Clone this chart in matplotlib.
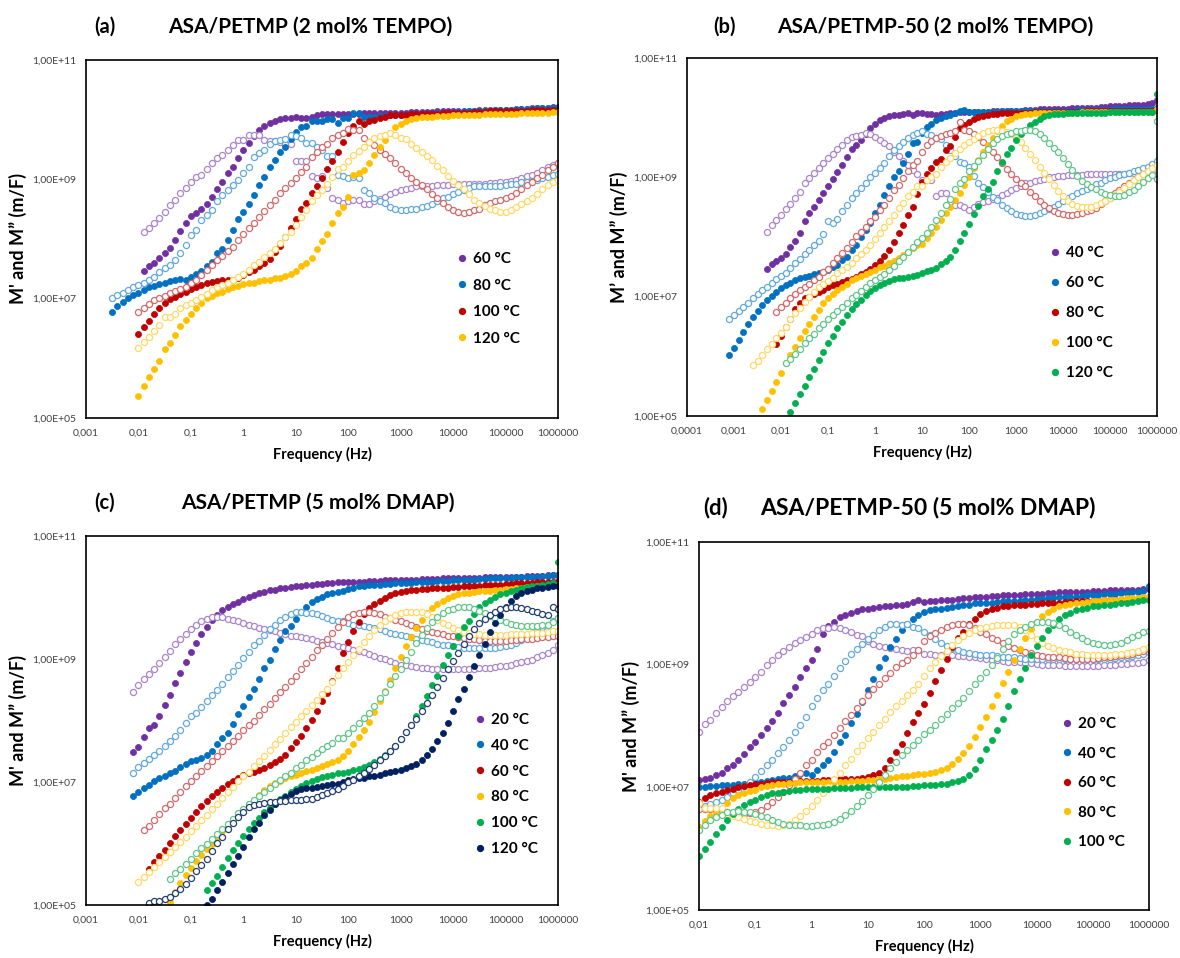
import numpy as np
import matplotlib
matplotlib.use('Agg')
import matplotlib.pyplot as plt
from matplotlib.lines import Line2D
from matplotlib.ticker import NullLocator

plt.rcParams.update({
    'font.family': ['Lato', 'DejaVu Sans'],
    'axes.linewidth': 1.2,
    'axes.edgecolor': '#000000',
})

W, H = 1180, 958
STEP = 0.1      # measured points are 0.1 decade apart
F_END = 6.0     # every sweep ends at 1 MHz

# ---------------- data: log10(M) in m/F, listed from low to high frequency ----------------
# (a) ASA/PETMP (2 mol% TEMPO)
A_TEMPS = ['60 °C', '80 °C', '100 °C', '120 °C']
A60_M1 = [7.47, 7.54, 7.59, 7.68, 7.76, 7.85, 7.99, 8.13, 8.26, 8.39, 8.44, 8.51, 8.59, 8.71, 8.83, 8.96, 9.10, 9.21,
          9.36, 9.50, 9.61, 9.73, 9.83, 9.89, 9.95, 9.98, 10.01, 10.02, 10.03, 10.04, 10.03, 10.02, 10.05, 10.08, 10.09,
          10.09, 10.09, 10.09, 10.10, 10.10, 10.10, 10.10, 10.11, 10.11, 10.11, 10.11, 10.11, 10.12, 10.12, 10.12,
          10.12, 10.13, 10.13, 10.13, 10.13, 10.13, 10.14, 10.14, 10.14, 10.14, 10.15, 10.15, 10.15, 10.15, 10.16,
          10.16, 10.16, 10.16, 10.17, 10.17, 10.17, 10.18, 10.18, 10.18, 10.19, 10.19, 10.20, 10.20, 10.21, 10.21]
A60_M2 = [8.11, 8.18, 8.26, 8.36, 8.46, 8.57, 8.66, 8.77, 8.86, 8.96, 9.04, 9.08, 9.17, 9.27, 9.35, 9.41, 9.50, 9.58,
          9.66, 9.66, 9.74, 9.74, 9.74, 9.66, 9.65, 9.64, 9.63, 9.60, 9.60, 9.31, 9.31, 9.31, 9.06, 9.02, 9.06, 8.86,
          8.68, 8.66, 8.60, 8.63, 8.65, 8.66, 8.58, 8.58, 8.63, 8.67, 8.71, 8.75, 8.78, 8.82, 8.83, 8.86, 8.88, 8.88,
          8.89, 8.89, 8.91, 8.91, 8.91, 8.92, 8.92, 8.92, 8.92, 8.93, 8.93, 8.93, 8.94, 8.94, 8.95, 8.96, 8.97, 8.99,
          9.02, 9.06, 9.08, 9.11, 9.16, 9.20, 9.24, 9.27]
A80_M1 = [6.78, 6.87, 6.94, 7.01, 7.06, 7.10, 7.15, 7.19, 7.22, 7.24, 7.26, 7.29, 7.32, 7.33, 7.32, 7.37, 7.41, 7.47,
          7.54, 7.62, 7.76, 7.84, 7.98, 8.15, 8.34, 8.46, 8.59, 8.74, 8.91, 9.04, 9.20, 9.32, 9.46, 9.55, 9.67, 9.80,
          9.88, 9.89, 9.97, 9.97, 9.98, 10.01, 10.01, 9.95, 10.02, 10.03, 10.12, 10.12, 10.04, 10.05, 10.05, 10.06,
          10.06, 10.07, 10.07, 10.08, 10.08, 10.09, 10.09, 10.10, 10.10, 10.10, 10.11, 10.11, 10.12, 10.12, 10.13,
          10.13, 10.14, 10.14, 10.14, 10.15, 10.15, 10.16, 10.16, 10.16, 10.17, 10.17, 10.18, 10.18, 10.18, 10.19,
          10.19, 10.19, 10.20, 10.20]
A80_M2 = [7.01, 7.06, 7.10, 7.15, 7.19, 7.23, 7.27, 7.31, 7.37, 7.44, 7.51, 7.56, 7.65, 7.76, 7.90, 8.07, 8.15, 8.32,
          8.40, 8.49, 8.63, 8.74, 8.82, 8.91, 8.99, 9.10, 9.21, 9.37, 9.44, 9.49, 9.59, 9.65, 9.66, 9.67, 9.74, 9.72,
          9.69, 9.61, 9.61, 9.55, 9.49, 9.39, 9.39, 9.07, 9.06, 9.02, 9.04, 9.02, 8.82, 8.77, 8.68, 8.63, 8.60, 8.54,
          8.50, 8.49, 8.49, 8.50, 8.51, 8.53, 8.55, 8.59, 8.63, 8.68, 8.71, 8.75, 8.79, 8.82, 8.85, 8.88, 8.88, 8.88,
          8.88, 8.88, 8.89, 8.91, 8.92, 8.93, 8.95, 8.96, 8.98, 8.99, 9.02, 9.04, 9.07, 9.09]
A100_M1 = [6.40, 6.53, 6.63, 6.75, 6.85, 6.93, 6.99, 7.03, 7.07, 7.12, 7.16, 7.19, 7.23, 7.26, 7.28, 7.30, 7.31, 7.31,
           7.32, 7.34, 7.40, 7.44, 7.48, 7.54, 7.59, 7.66, 7.79, 7.88, 8.03, 8.18, 8.33, 8.50, 8.61, 8.77, 8.88, 9.03,
           9.18, 9.31, 9.45, 9.62, 9.77, 9.89, 9.97, 9.93, 9.98, 9.99, 10.02, 10.05, 10.07, 10.07, 10.08, 10.08, 10.09,
           10.09, 10.09, 10.10, 10.10, 10.10, 10.11, 10.11, 10.11, 10.12, 10.12, 10.12, 10.13, 10.13, 10.13, 10.14,
           10.14, 10.14, 10.14, 10.15, 10.15, 10.15, 10.15, 10.16, 10.16, 10.16, 10.16, 10.17, 10.17]
A100_M2 = [6.78, 6.85, 6.91, 6.97, 7.01, 7.05, 7.10, 7.13, 7.17, 7.20, 7.26, 7.31, 7.40, 7.48, 7.56, 7.65, 7.72, 7.80,
           7.87, 7.98, 8.09, 8.18, 8.27, 8.37, 8.47, 8.57, 8.66, 8.77, 8.85, 8.94, 9.03, 9.13, 9.21, 9.38, 9.46, 9.55,
           9.60, 9.69, 9.74, 9.78, 9.84, 9.83, 9.83, 9.69, 9.63, 9.58, 9.49, 9.42, 9.35, 9.27, 9.18, 9.11, 9.03, 8.96,
           8.91, 8.83, 8.75, 8.68, 8.60, 8.54, 8.49, 8.45, 8.44, 8.46, 8.49, 8.51, 8.57, 8.61, 8.63, 8.66, 8.69, 8.72,
           8.77, 8.83, 8.91, 8.96, 9.02, 9.08, 9.15, 9.21, 9.27]
A120_M1 = [5.37, 5.54, 5.68, 5.82, 5.96, 6.15, 6.25, 6.39, 6.54, 6.64, 6.75, 6.85, 6.93, 7.01, 7.04, 7.09, 7.12, 7.16,
           7.19, 7.21, 7.24, 7.26, 7.27, 7.30, 7.31, 7.32, 7.34, 7.35, 7.38, 7.42, 7.47, 7.54, 7.59, 7.68, 7.83, 7.96,
           8.09, 8.26, 8.44, 8.54, 8.71, 9.07, 9.11, 9.16, 9.27, 9.40, 9.55, 9.66, 9.77, 9.87, 9.93, 9.98, 10.01,
           10.03, 10.04, 10.05, 10.05, 10.06, 10.06, 10.06, 10.07, 10.07, 10.07, 10.08, 10.08, 10.08, 10.09, 10.09,
           10.09, 10.09, 10.10, 10.10, 10.10, 10.11, 10.11, 10.11, 10.12, 10.12, 10.12, 10.13, 10.13]
A120_M2 = [6.18, 6.27, 6.36, 6.46, 6.56, 6.70, 6.70, 6.75, 6.84, 6.89, 6.92, 6.98, 7.03, 7.07, 7.15, 7.19, 7.23, 7.27,
           7.31, 7.37, 7.42, 7.48, 7.56, 7.62, 7.69, 7.77, 7.84, 7.94, 8.04, 8.12, 8.23, 8.37, 8.49, 8.63, 8.74, 8.82,
           8.93, 9.04, 9.17, 9.21, 9.30, 9.40, 9.47, 9.55, 9.63, 9.69, 9.73, 9.74, 9.77, 9.74, 9.70, 9.67, 9.60, 9.53,
           9.46, 9.39, 9.32, 9.22, 9.16, 9.06, 8.98, 8.90, 8.83, 8.75, 8.66, 8.60, 8.55, 8.51, 8.48, 8.46, 8.46, 8.48,
           8.53, 8.58, 8.64, 8.69, 8.76, 8.83, 8.90, 8.95, 8.99]

# (b) ASA/PETMP-50 (2 mol% TEMPO)
B_TEMPS = ['40 °C', '60 °C', '80 °C', '100 °C', '120 °C']
B40_M1 = [7.46, 7.54, 7.60, 7.64, 7.72, 7.84, 7.94, 8.07, 8.26, 8.40, 8.51, 8.62, 8.73, 8.86, 8.97, 9.09, 9.20, 9.34,
          9.47, 9.54, 9.63, 9.73, 9.82, 9.90, 9.96, 9.99, 10.02, 10.04, 10.05, 10.06, 10.08, 10.05, 10.07, 10.07,
          10.06, 10.06, 10.05, 10.06, 10.06, 10.07, 10.08, 10.09, 10.09, 10.09, 10.10, 10.10, 10.10, 10.10, 10.11,
          10.11, 10.11, 10.11, 10.12, 10.12, 10.12, 10.13, 10.13, 10.13, 10.14, 10.14, 10.14, 10.14, 10.15, 10.15,
          10.15, 10.16, 10.16, 10.16, 10.17, 10.17, 10.17, 10.18, 10.18, 10.19, 10.19, 10.20, 10.20, 10.21, 10.21,
          10.22, 10.22, 10.23, 10.24, 10.29]
B40_M2 = [8.09, 8.20, 8.29, 8.37, 8.47, 8.55, 8.66, 8.75, 8.90, 8.99, 9.07, 9.15, 9.24, 9.32, 9.39, 9.47, 9.54, 9.63,
          9.68, 9.70, 9.71, 9.74, 9.73, 9.67, 9.63, 9.57, 9.52, 9.43, 9.35, 9.27, 9.21, 9.12, 9.05, 8.95, 8.95, 8.96,
          8.68, 8.73, 8.73, 8.59, 8.54, 8.54, 8.51, 8.46, 8.51, 8.55, 8.59, 8.61, 8.64, 8.66, 8.71, 8.74, 8.78, 8.82,
          8.86, 8.90, 8.90, 8.94, 8.96, 8.98, 9.00, 9.01, 9.02, 9.03, 9.04, 9.04, 9.04, 9.04, 9.05, 9.05, 9.05, 9.05,
          9.06, 9.06, 9.06, 9.06, 9.06, 9.07, 9.07, 9.07, 9.07, 9.08, 9.08, 8.98]
B60_M1 = [6.03, 6.14, 6.28, 6.41, 6.54, 6.66, 6.76, 6.86, 6.94, 7.01, 7.07, 7.14, 7.19, 7.23, 7.28, 7.31, 7.33, 7.35,
          7.38, 7.39, 7.42, 7.45, 7.50, 7.53, 7.61, 7.67, 7.78, 7.87, 8.00, 8.12, 8.23, 8.41, 8.54, 8.71, 8.85, 9.01,
          9.11, 9.24, 9.39, 9.58, 9.60, 9.74, 9.85, 9.90, 9.96, 9.99, 10.02, 10.05, 10.08, 10.12, 10.13, 10.10, 10.10,
          10.10, 10.10, 10.10, 10.10, 10.10, 10.11, 10.11, 10.11, 10.11, 10.11, 10.11, 10.11, 10.11, 10.12, 10.12,
          10.12, 10.12, 10.12, 10.12, 10.12, 10.12, 10.13, 10.13, 10.13, 10.13, 10.13, 10.13, 10.13, 10.13, 10.14,
          10.14, 10.14, 10.14, 10.14, 10.14, 10.15, 10.15, 10.15, 10.16]
B60_M2 = [6.62, 6.69, 6.76, 6.83, 6.90, 6.97, 7.04, 7.11, 7.17, 7.23, 7.29, 7.35, 7.40, 7.48, 7.56, 7.63, 7.71, 7.79,
          7.87, 7.94, 8.05, 8.26, 8.23, 8.31, 8.43, 8.54, 8.65, 8.73, 8.82, 8.90, 9.00, 9.07, 9.15, 9.24, 9.35, 9.46,
          9.52, 9.60, 9.66, 9.71, 9.75, 9.78, 9.72, 9.71, 9.66, 9.64, 9.55, 9.46, 9.36, 9.26, 9.24, 9.17, 9.03, 8.91,
          8.83, 8.76, 8.67, 8.62, 8.54, 8.48, 8.44, 8.39, 8.37, 8.36, 8.36, 8.37, 8.40, 8.44, 8.47, 8.51, 8.55, 8.60,
          8.65, 8.69, 8.73, 8.77, 8.80, 8.84, 8.88, 8.91, 8.95, 8.99, 9.01, 9.04, 9.06, 9.08, 9.10, 9.12, 9.15, 9.18,
          9.23, 9.28]
B80_M1 = [6.20, 6.34, 6.49, 6.63, 6.80, 6.89, 6.97, 7.00, 7.05, 7.08, 7.12, 7.16, 7.19, 7.22, 7.25, 7.28, 7.30, 7.33,
          7.38, 7.42, 7.47, 7.53, 7.60, 7.68, 7.78, 7.92, 8.07, 8.20, 8.37, 8.51, 8.72, 8.92, 9.06, 9.15, 9.25, 9.30,
          9.46, 9.53, 9.67, 9.82, 9.87, 9.92, 9.97, 10.01, 10.03, 10.05, 10.06, 10.06, 10.07, 10.07, 10.07, 10.08,
          10.08, 10.08, 10.08, 10.09, 10.09, 10.09, 10.09, 10.09, 10.10, 10.10, 10.10, 10.10, 10.10, 10.10, 10.11,
          10.11, 10.11, 10.11, 10.11, 10.11, 10.11, 10.12, 10.12, 10.12, 10.12, 10.12, 10.12, 10.12, 10.12, 10.13]
B80_M2 = [6.75, 6.83, 6.90, 6.97, 7.04, 7.11, 7.17, 7.22, 7.28, 7.33, 7.42, 7.47, 7.56, 7.64, 7.73, 7.81, 7.91, 8.01,
          8.09, 8.17, 8.26, 8.34, 8.45, 8.54, 8.65, 8.79, 8.87, 8.99, 9.10, 9.21, 9.27, 9.43, 9.54, 9.61, 9.66, 9.69,
          9.72, 9.74, 9.78, 9.92, 9.80, 9.77, 9.72, 9.67, 9.60, 9.50, 9.42, 9.34, 9.24, 9.14, 9.06, 8.97, 8.90, 8.85,
          8.76, 8.68, 8.60, 8.54, 8.49, 8.43, 8.40, 8.38, 8.37, 8.37, 8.39, 8.40, 8.43, 8.45, 8.49, 8.55, 8.60, 8.65,
          8.73, 8.78, 8.85, 8.90, 8.95, 9.00, 9.05, 9.10, 9.15, 9.21]
B100_M1 = [5.12, 5.27, 5.42, 5.57, 5.72, 5.88, 6.02, 6.16, 6.30, 6.43, 6.54, 6.66, 6.77, 6.89, 6.97, 7.05, 7.12, 7.17,
           7.22, 7.28, 7.31, 7.35, 7.38, 7.42, 7.45, 7.49, 7.51, 7.56, 7.60, 7.64, 7.70, 7.75, 7.81, 7.87, 7.89, 7.98,
           8.07, 8.17, 8.29, 8.40, 8.51, 8.62, 8.73, 8.87, 9.01, 9.15, 9.29, 9.42, 9.54, 9.66, 9.77, 9.86, 9.94, 9.98,
           10.02, 10.04, 10.06, 10.06, 10.07, 10.07, 10.07, 10.07, 10.08, 10.08, 10.08, 10.08, 10.08, 10.08, 10.09,
           10.09, 10.09, 10.09, 10.09, 10.09, 10.09, 10.09, 10.10, 10.10, 10.10, 10.10, 10.10, 10.10, 10.10, 10.10,
           10.14]
B100_M2 = [5.85, 5.92, 6.02, 6.12, 6.21, 6.30, 6.39, 6.49, 6.62, 6.72, 6.81, 6.91, 7.00, 7.08, 7.16, 7.22, 7.27, 7.32,
           7.39, 7.45, 7.50, 7.57, 7.64, 7.71, 7.79, 7.87, 7.96, 8.06, 8.17, 8.27, 8.37, 8.48, 8.57, 8.68, 8.76, 8.85,
           8.86, 8.95, 9.01, 9.06, 9.17, 9.25, 9.33, 9.40, 9.47, 9.54, 9.60, 9.65, 9.70, 9.74, 9.77, 9.79, 9.80, 9.78,
           9.76, 9.72, 9.66, 9.59, 9.49, 9.39, 9.29, 9.18, 9.08, 8.97, 8.87, 8.77, 8.68, 8.60, 8.55, 8.52, 8.50, 8.50,
           8.50, 8.53, 8.57, 8.61, 8.65, 8.71, 8.76, 8.82, 8.88, 8.95, 9.00, 9.06, 9.11, 9.16, 9.21]
B120_M1 = [5.06, 5.22, 5.37, 5.51, 5.65, 5.79, 5.94, 6.08, 6.22, 6.34, 6.47, 6.58, 6.69, 6.79, 6.88, 6.95, 7.03, 7.10,
           7.15, 7.19, 7.23, 7.27, 7.29, 7.31, 7.32, 7.33, 7.35, 7.36, 7.40, 7.43, 7.45, 7.48, 7.54, 7.60, 7.67, 7.79,
           7.94, 8.06, 8.22, 8.38, 8.52, 8.68, 8.80, 8.93, 9.10, 9.25, 9.39, 9.49, 9.62, 9.72, 9.80, 9.88, 9.93, 9.98,
           10.02, 10.04, 10.06, 10.06, 10.06, 10.07, 10.07, 10.07, 10.07, 10.08, 10.08, 10.08, 10.08, 10.08, 10.09,
           10.09, 10.09, 10.09, 10.09, 10.09, 10.10, 10.10, 10.10, 10.10, 10.40]
B120_M2 = [5.88, 5.96, 6.04, 6.13, 6.22, 6.30, 6.38, 6.47, 6.55, 6.62, 6.69, 6.76, 6.83, 6.90, 6.97, 7.03, 7.10, 7.17,
           7.23, 7.28, 7.33, 7.38, 7.45, 7.51, 7.59, 7.67, 7.75, 7.84, 7.92, 7.99, 8.07, 8.17, 8.29, 8.40, 8.53, 8.63,
           8.80, 8.90, 8.98, 9.11, 9.19, 9.27, 9.38, 9.48, 9.58, 9.64, 9.69, 9.72, 9.75, 9.77, 9.78, 9.80, 9.80, 9.77,
           9.72, 9.66, 9.58, 9.50, 9.43, 9.33, 9.23, 9.12, 9.02, 8.94, 8.88, 8.84, 8.80, 8.76, 8.72, 8.71, 8.69, 8.69,
           8.71, 8.75, 8.79, 8.85, 8.93, 8.99, 9.04, 9.94]

# (c) ASA/PETMP (5 mol% DMAP)
C_TEMPS = ['20 °C', '40 °C', '60 °C', '80 °C', '100 °C', '120 °C']
C20_M1 = [7.49, 7.57, 7.73, 7.88, 7.92, 8.07, 8.25, 8.42, 8.61, 8.78, 8.95, 9.11, 9.26, 9.40, 9.52, 9.63, 9.72, 9.79,
          9.85, 9.89, 9.93, 9.97, 10.01, 10.04, 10.07, 10.09, 10.12, 10.13, 10.15, 10.16, 10.17, 10.18, 10.19, 10.20,
          10.21, 10.22, 10.22, 10.23, 10.24, 10.25, 10.25, 10.25, 10.26, 10.26, 10.26, 10.27, 10.27, 10.27, 10.28,
          10.28, 10.28, 10.29, 10.29, 10.29, 10.29, 10.30, 10.30, 10.30, 10.30, 10.31, 10.31, 10.31, 10.31, 10.32,
          10.32, 10.32, 10.32, 10.33, 10.33, 10.33, 10.33, 10.34, 10.34, 10.34, 10.34, 10.35, 10.35, 10.35, 10.35,
          10.36, 10.36, 10.36]
C20_M2 = [8.46, 8.58, 8.67, 8.75, 8.83, 8.93, 9.03, 9.13, 9.24, 9.32, 9.40, 9.48, 9.55, 9.61, 9.65, 9.68, 9.69, 9.68,
          9.65, 9.63, 9.61, 9.58, 9.56, 9.54, 9.51, 9.49, 9.47, 9.45, 9.43, 9.40, 9.38, 9.37, 9.35, 9.34, 9.32, 9.30,
          9.28, 9.26, 9.24, 9.21, 9.20, 9.18, 9.15, 9.13, 9.11, 9.08, 9.05, 9.02, 9.00, 8.97, 8.94, 8.91, 8.90, 8.89,
          8.87, 8.86, 8.85, 8.84, 8.84, 8.83, 8.83, 8.83, 8.83, 8.83, 8.84, 8.84, 8.85, 8.85, 8.86, 8.87, 8.88, 8.89,
          8.90, 8.93, 8.95, 8.97, 8.99, 9.03, 9.06, 9.10, 9.15, 9.23]
C40_M1 = [6.77, 6.84, 6.90, 6.95, 7.01, 7.06, 7.10, 7.14, 7.18, 7.24, 7.30, 7.34, 7.35, 7.39, 7.44, 7.51, 7.61, 7.71,
          7.80, 7.95, 8.11, 8.23, 8.38, 8.52, 8.67, 8.85, 8.99, 9.16, 9.31, 9.45, 9.54, 9.65, 9.76, 9.84, 9.92, 9.98,
          10.01, 10.05, 10.07, 10.09, 10.11, 10.14, 10.16, 10.18, 10.19, 10.20, 10.21, 10.21, 10.22, 10.22, 10.23,
          10.23, 10.24, 10.24, 10.25, 10.25, 10.26, 10.26, 10.27, 10.27, 10.27, 10.28, 10.28, 10.29, 10.29, 10.29,
          10.30, 10.30, 10.31, 10.31, 10.31, 10.32, 10.32, 10.33, 10.33, 10.33, 10.34, 10.34, 10.35, 10.35, 10.36,
          10.37]
C40_M2 = [7.15, 7.24, 7.31, 7.37, 7.44, 7.51, 7.59, 7.66, 7.74, 7.84, 7.96, 8.07, 8.13, 8.22, 8.31, 8.41, 8.50, 8.60,
          8.70, 8.81, 8.91, 9.02, 9.12, 9.22, 9.30, 9.39, 9.48, 9.56, 9.63, 9.68, 9.73, 9.76, 9.76, 9.75, 9.74, 9.73,
          9.70, 9.67, 9.64, 9.61, 9.61, 9.59, 9.56, 9.55, 9.54, 9.52, 9.50, 9.48, 9.45, 9.43, 9.41, 9.39, 9.37, 9.35,
          9.33, 9.31, 9.29, 9.27, 9.25, 9.23, 9.22, 9.21, 9.20, 9.18, 9.18, 9.18, 9.18, 9.18, 9.18, 9.18, 9.19, 9.21,
          9.23, 9.26, 9.31, 9.36, 9.41, 9.46, 9.52, 9.56, 9.61, 9.66]
C60_M1 = [5.59, 5.70, 5.80, 5.89, 6.01, 6.12, 6.22, 6.32, 6.42, 6.52, 6.61, 6.69, 6.77, 6.84, 6.90, 6.96, 7.01, 7.07,
          7.11, 7.14, 7.17, 7.20, 7.23, 7.28, 7.33, 7.38, 7.44, 7.55, 7.65, 7.75, 7.88, 8.01, 8.15, 8.31, 8.45, 8.65,
          8.85, 9.10, 9.28, 9.45, 9.60, 9.73, 9.83, 9.90, 9.95, 10.00, 10.04, 10.07, 10.09, 10.11, 10.12, 10.13,
          10.14, 10.14, 10.15, 10.15, 10.16, 10.16, 10.17, 10.17, 10.18, 10.18, 10.19, 10.19, 10.20, 10.20, 10.21,
          10.21, 10.22, 10.22, 10.23, 10.23, 10.24, 10.24, 10.25, 10.25, 10.26, 10.26, 10.27]
C60_M2 = [6.22, 6.29, 6.39, 6.48, 6.57, 6.65, 6.74, 6.83, 6.93, 7.02, 7.10, 7.18, 7.26, 7.34, 7.43, 7.51, 7.59, 7.67,
          7.75, 7.84, 7.92, 8.00, 8.09, 8.18, 8.27, 8.37, 8.46, 8.55, 8.64, 8.73, 8.83, 8.93, 9.04, 9.14, 9.23, 9.33,
          9.42, 9.52, 9.60, 9.68, 9.73, 9.75, 9.77, 9.76, 9.74, 9.73, 9.69, 9.66, 9.63, 9.61, 9.58, 9.55, 9.52, 9.49,
          9.46, 9.44, 9.42, 9.40, 9.38, 9.37, 9.36, 9.34, 9.33, 9.32, 9.31, 9.30, 9.30, 9.30, 9.30, 9.30, 9.31, 9.31,
          9.32, 9.33, 9.33, 9.34, 9.35, 9.36, 9.37, 9.38]
C80_M1 = [5.05, 5.21, 5.35, 5.48, 5.60, 5.71, 5.81, 5.91, 6.00, 6.10, 6.20, 6.29, 6.38, 6.46, 6.54, 6.63, 6.71, 6.79,
          6.87, 6.93, 6.98, 7.02, 7.06, 7.09, 7.12, 7.15, 7.18, 7.20, 7.23, 7.26, 7.29, 7.32, 7.36, 7.42, 7.50, 7.61,
          7.73, 7.85, 7.98, 8.14, 8.31, 8.48, 8.66, 8.85, 9.04, 9.21, 9.36, 9.50, 9.63, 9.74, 9.83, 9.90, 9.95, 9.99,
          10.02, 10.05, 10.07, 10.08, 10.09, 10.10, 10.11, 10.11, 10.12, 10.13, 10.14, 10.14, 10.15, 10.16, 10.17,
          10.17, 10.18, 10.18, 10.19, 10.20, 10.21]
C80_M2 = [5.37, 5.46, 5.53, 5.62, 5.70, 5.78, 5.86, 5.94, 6.02, 6.11, 6.20, 6.29, 6.38, 6.47, 6.56, 6.65, 6.74, 6.83,
          6.92, 7.01, 7.09, 7.17, 7.26, 7.34, 7.43, 7.52, 7.61, 7.70, 7.79, 7.89, 7.98, 8.07, 8.16, 8.25, 8.34, 8.43,
          8.52, 8.62, 8.74, 8.85, 8.95, 9.06, 9.17, 9.28, 9.38, 9.47, 9.55, 9.62, 9.67, 9.71, 9.74, 9.76, 9.77, 9.77,
          9.76, 9.73, 9.69, 9.64, 9.59, 9.55, 9.51, 9.47, 9.44, 9.42, 9.41, 9.40, 9.39, 9.39, 9.39, 9.39, 9.39, 9.40,
          9.40, 9.41, 9.41, 9.42, 9.42, 9.43, 9.44, 9.45, 9.46]
C100_M1 = [5.25, 5.36, 5.47, 5.62, 5.76, 5.89, 6.01, 6.12, 6.24, 6.33, 6.42, 6.51, 6.58, 6.65, 6.72, 6.77, 6.83, 6.89,
           6.94, 6.98, 7.02, 7.05, 7.08, 7.10, 7.12, 7.14, 7.15, 7.17, 7.19, 7.21, 7.24, 7.28, 7.32, 7.38, 7.44, 7.51,
           7.59, 7.70, 7.81, 7.93, 8.07, 8.23, 8.40, 8.57, 8.72, 8.91, 9.07, 9.21, 9.37, 9.52, 9.62, 9.73, 9.84, 9.91,
           9.96, 10.01, 10.05, 10.08, 10.11, 10.13, 10.15, 10.17, 10.18, 10.19, 10.20, 10.22, 10.23, 10.58]
C100_M2 = [5.43, 5.52, 5.59, 5.66, 5.75, 5.84, 5.92, 6.00, 6.08, 6.16, 6.24, 6.32, 6.40, 6.49, 6.56, 6.64, 6.71, 6.78,
           6.84, 6.90, 6.97, 7.03, 7.09, 7.15, 7.22, 7.28, 7.35, 7.41, 7.47, 7.53, 7.58, 7.64, 7.71, 7.72, 7.80, 7.88,
           7.96, 8.04, 8.13, 8.24, 8.36, 8.47, 8.59, 8.72, 8.83, 8.98, 9.12, 9.26, 9.39, 9.51, 9.60, 9.68, 9.75, 9.79,
           9.82, 9.84, 9.85, 9.84, 9.82, 9.78, 9.75, 9.70, 9.66, 9.63, 9.60, 9.57, 9.55, 9.54, 9.54, 9.54, 9.54, 9.55,
           9.56, 9.60, 9.66]
C120_M1 = [5.00, 5.09, 5.24, 5.38, 5.52, 5.66, 5.80, 5.95, 6.10, 6.23, 6.34, 6.46, 6.55, 6.64, 6.71, 6.76, 6.81, 6.85,
           6.88, 6.90, 6.91, 6.92, 6.93, 6.95, 6.96, 6.97, 7.00, 7.03, 7.05, 7.06, 7.07, 7.09, 7.10, 7.12, 7.14, 7.17,
           7.18, 7.20, 7.23, 7.26, 7.30, 7.36, 7.44, 7.54, 7.67, 7.80, 7.96, 8.15, 8.35, 8.52, 8.70, 8.89, 9.06, 9.25,
           9.44, 9.58, 9.72, 9.85, 9.95, 10.02, 10.08, 10.11, 10.13, 10.15, 10.16, 10.17, 10.18, 10.18]
C120_M2 = [5.03, 5.06, 5.07, 5.09, 5.13, 5.19, 5.26, 5.34, 5.44, 5.55, 5.65, 5.75, 5.87, 6.01, 6.11, 6.24, 6.34, 6.43,
           6.51, 6.59, 6.63, 6.65, 6.66, 6.68, 6.68, 6.69, 6.69, 6.70, 6.70, 6.71, 6.72, 6.73, 6.76, 6.79, 6.82, 6.85,
           6.89, 6.94, 7.00, 7.04, 7.09, 7.15, 7.21, 7.28, 7.35, 7.43, 7.51, 7.59, 7.70, 7.81, 7.92, 8.03, 8.15, 8.28,
           8.41, 8.55, 8.69, 8.83, 8.96, 9.09, 9.24, 9.37, 9.48, 9.58, 9.65, 9.72, 9.77, 9.81, 9.83, 9.85, 9.85, 9.83,
           9.81, 9.78, 9.76, 9.73, 9.71, 9.85, 9.82]

# (d) ASA/PETMP-50 (5 mol% DMAP)
D_TEMPS = ['20 °C', '40 °C', '60 °C', '80 °C', '100 °C']
D20_M1 = [7.12, 7.14, 7.16, 7.20, 7.24, 7.31, 7.36, 7.45, 7.55, 7.65, 7.74, 7.85, 7.96, 8.08, 8.21, 8.37, 8.50, 8.63,
          8.80, 8.94, 9.08, 9.25, 9.50, 9.63, 9.70, 9.77, 9.81, 9.84, 9.87, 9.90, 9.91, 9.93, 9.94, 9.95, 9.96, 9.97,
          9.97, 9.99, 10.02, 10.05, 10.02, 10.03, 10.04, 10.05, 10.05, 10.06, 10.07, 10.08, 10.09, 10.10, 10.11, 10.11,
          10.12, 10.12, 10.13, 10.13, 10.14, 10.14, 10.15, 10.15, 10.16, 10.16, 10.17, 10.17, 10.18, 10.18, 10.18,
          10.19, 10.19, 10.19, 10.20, 10.20, 10.20, 10.21, 10.21, 10.21, 10.22, 10.22, 10.22, 10.23, 10.23]
D20_M2 = [7.90, 8.03, 8.09, 8.21, 8.31, 8.41, 8.49, 8.56, 8.64, 8.72, 8.80, 8.88, 8.99, 9.07, 9.15, 9.22, 9.29, 9.35,
          9.41, 9.45, 9.50, 9.56, 9.60, 9.60, 9.61, 9.60, 9.56, 9.53, 9.48, 9.46, 9.39, 9.34, 9.30, 9.29, 9.27, 9.26,
          9.24, 9.22, 9.24, 9.24, 9.18, 9.17, 9.16, 9.15, 9.15, 9.15, 9.14, 9.14, 9.13, 9.12, 9.11, 9.10, 9.08, 9.07,
          9.06, 9.05, 9.04, 9.04, 9.03, 9.02, 9.01, 9.00, 9.00, 8.99, 8.99, 8.98, 8.98, 8.98, 8.98, 8.98, 8.98, 8.98,
          8.99, 9.00, 9.00, 9.01, 9.01, 9.02, 9.03, 9.04, 9.07]
D40_M1 = [7.01, 7.01, 7.02, 7.02, 7.03, 7.03, 7.04, 7.05, 7.06, 7.07, 7.08, 7.09, 7.11, 7.12, 7.13, 7.15, 7.16, 7.18,
          7.21, 7.24, 7.20, 7.29, 7.36, 7.44, 7.58, 7.74, 7.85, 8.05, 8.20, 8.39, 8.59, 8.77, 8.96, 9.11, 9.28, 9.42,
          9.56, 9.66, 9.75, 9.81, 9.86, 9.89, 9.90, 9.91, 9.93, 9.94, 9.96, 9.97, 9.98, 10.00, 10.00, 10.01, 10.01,
          10.02, 10.03, 10.03, 10.04, 10.04, 10.05, 10.06, 10.07, 10.07, 10.08, 10.09, 10.10, 10.10, 10.11, 10.11,
          10.12, 10.13, 10.14, 10.14, 10.15, 10.16, 10.16, 10.17, 10.17, 10.18, 10.19, 10.20, 10.28]
D40_M2 = [6.68, 6.69, 6.73, 6.76, 6.80, 6.84, 6.90, 6.96, 7.02, 7.09, 7.17, 7.27, 7.36, 7.45, 7.56, 7.66, 7.77, 7.90,
          8.01, 8.14, 8.32, 8.45, 8.58, 8.69, 8.82, 8.95, 9.06, 9.17, 9.26, 9.34, 9.42, 9.48, 9.56, 9.61, 9.67, 9.66,
          9.64, 9.66, 9.61, 9.60, 9.54, 9.48, 9.42, 9.36, 9.31, 9.27, 9.24, 9.21, 9.19, 9.17, 9.16, 9.15, 9.15, 9.14,
          9.13, 9.12, 9.12, 9.11, 9.10, 9.10, 9.10, 9.10, 9.10, 9.10, 9.10, 9.10, 9.10, 9.10, 9.10, 9.10, 9.10, 9.10,
          9.10, 9.10, 9.11, 9.12, 9.13, 9.14, 9.15, 9.17, 9.21]
D60_M1 = [6.76, 6.82, 6.87, 6.90, 6.93, 6.95, 6.98, 7.00, 7.02, 7.03, 7.05, 7.06, 7.07, 7.08, 7.08, 7.09, 7.09, 7.10,
          7.11, 7.11, 7.11, 7.11, 7.12, 7.12, 7.12, 7.13, 7.13, 7.14, 7.14, 7.16, 7.17, 7.20, 7.24, 7.32, 7.44, 7.58,
          7.71, 7.88, 8.06, 8.21, 8.36, 8.54, 8.74, 8.91, 9.10, 9.29, 9.44, 9.54, 9.66, 9.75, 9.82, 9.87, 9.90, 9.93,
          9.95, 9.96, 9.97, 9.98, 9.98, 9.99, 9.99, 10.00, 10.00, 10.01, 10.01, 10.02, 10.02, 10.03, 10.03, 10.03,
          10.04, 10.04, 10.05, 10.05, 10.05, 10.06, 10.06, 10.07, 10.07, 10.08, 10.10]
D60_M2 = [6.65, 6.65, 6.65, 6.63, 6.62, 6.60, 6.58, 6.57, 6.57, 6.58, 6.60, 6.63, 6.69, 6.76, 6.84, 6.93, 7.03, 7.13,
          7.24, 7.36, 7.44, 7.58, 7.67, 7.74, 7.85, 7.97, 8.08, 8.18, 8.30, 8.41, 8.51, 8.61, 8.69, 8.79, 8.87, 8.96,
          9.02, 9.08, 9.16, 9.24, 9.38, 9.46, 9.52, 9.57, 9.61, 9.65, 9.67, 9.67, 9.64, 9.59, 9.54, 9.50, 9.44, 9.40,
          9.35, 9.31, 9.27, 9.24, 9.21, 9.19, 9.16, 9.14, 9.13, 9.12, 9.12, 9.11, 9.10, 9.10, 9.10, 9.10, 9.10, 9.11,
          9.12, 9.13, 9.14, 9.15, 9.16, 9.18, 9.20, 9.22, 9.26]
D80_M1 = [6.35, 6.45, 6.53, 6.58, 6.65, 6.75, 6.82, 6.87, 6.91, 6.94, 6.96, 7.00, 7.02, 7.03, 7.05, 7.06, 7.07, 7.07,
          7.08, 7.08, 7.08, 7.08, 7.08, 7.09, 7.09, 7.09, 7.09, 7.10, 7.11, 7.11, 7.12, 7.12, 7.13, 7.14, 7.16, 7.17,
          7.18, 7.19, 7.20, 7.21, 7.22, 7.23, 7.25, 7.28, 7.32, 7.38, 7.46, 7.56, 7.68, 7.82, 7.98, 8.15, 8.33, 8.51,
          8.70, 8.88, 9.07, 9.25, 9.43, 9.58, 9.70, 9.79, 9.86, 9.91, 9.95, 9.97, 9.99, 10.00, 10.01, 10.02, 10.03,
          10.04, 10.05, 10.05, 10.06, 10.07, 10.08, 10.08, 10.09, 10.10, 10.11]
D80_M2 = [6.74, 6.67, 6.67, 6.67, 6.66, 6.57, 6.53, 6.51, 6.48, 6.45, 6.43, 6.41, 6.39, 6.38, 6.37, 6.38, 6.41, 6.46,
          6.53, 6.62, 6.69, 6.79, 6.90, 7.01, 7.13, 7.24, 7.36, 7.47, 7.59, 7.69, 7.80, 7.90, 8.01, 8.12, 8.23, 8.32,
          8.41, 8.50, 8.58, 8.68, 8.82, 8.94, 9.04, 9.14, 9.23, 9.32, 9.40, 9.47, 9.52, 9.56, 9.59, 9.61, 9.63, 9.64,
          9.65, 9.65, 9.64, 9.61, 9.56, 9.49, 9.42, 9.36, 9.31, 9.27, 9.24, 9.22, 9.20, 9.18, 9.17, 9.16, 9.16, 9.16,
          9.16, 9.16, 9.17, 9.18, 9.19, 9.20, 9.22, 9.25, 9.29]
D100_M1 = [5.88, 6.00, 6.11, 6.24, 6.36, 6.46, 6.57, 6.65, 6.71, 6.76, 6.80, 6.84, 6.87, 6.90, 6.91, 6.93, 6.94, 6.95,
           6.96, 6.97, 6.97, 6.98, 6.98, 6.98, 6.99, 6.99, 6.99, 6.99, 7.00, 7.00, 7.01, 7.01, 7.01, 7.01, 7.01, 7.01,
           7.01, 7.01, 7.02, 7.02, 7.03, 7.03, 7.04, 7.05, 7.06, 7.08, 7.10, 7.14, 7.20, 7.30, 7.45, 7.62, 7.77, 7.93,
           8.12, 8.32, 8.57, 8.77, 8.95, 9.16, 9.30, 9.44, 9.56, 9.65, 9.75, 9.81, 9.85, 9.89, 9.91, 9.93, 9.95, 9.96,
           9.97, 9.98, 9.99, 10.00, 10.01, 10.02, 10.04, 10.05, 10.06]
D100_M2 = [6.30, 6.38, 6.46, 6.51, 6.55, 6.59, 6.60, 6.61, 6.60, 6.59, 6.56, 6.53, 6.51, 6.46, 6.44, 6.41, 6.39, 6.38,
           6.38, 6.37, 6.37, 6.38, 6.39, 6.41, 6.44, 6.49, 6.55, 6.62, 6.69, 6.78, 6.87, 6.98, 7.09, 7.20, 7.31, 7.42,
           7.52, 7.61, 7.69, 7.77, 7.87, 7.94, 8.02, 8.11, 8.20, 8.29, 8.38, 8.46, 8.57, 8.68, 8.78, 8.88, 9.00, 9.11,
           9.25, 9.38, 9.50, 9.56, 9.62, 9.66, 9.69, 9.70, 9.69, 9.68, 9.64, 9.59, 9.53, 9.49, 9.44, 9.39, 9.36, 9.34,
           9.32, 9.32, 9.33, 9.36, 9.41, 9.45, 9.48, 9.53, 9.55]

Y_TICKS = [1e5, 1e7, 1e9, 1e11]
Y_TICKLABELS = ['1,00E+05', '1,00E+07', '1,00E+09', '1,00E+11']
X_TICKLABELS = {-4: '0,0001', -3: '0,001', -2: '0,01', -1: '0,1', 0: '1', 1: '10', 2: '100', 3: '1000',
                4: '10000', 5: '100000', 6: '1000000'}

# ---------------- style ----------------
FILLED = ['#7030A0', '#0070C0', '#C00000', '#FFC000', '#00B050', '#002060']
OPEN = ['#A986CC', '#62A9DD', '#D36A6A', '#FFD966', '#62C58A', '#243F73']

fig = plt.figure(figsize=(W / 100, H / 100), dpi=100)


def add_px_axes(l, t, r, b):
    return fig.add_axes([l / W, 1 - b / H, (r - l) / W, (b - t) / H])


def freqs(vals):
    n = len(vals)
    return 10 ** (F_END - STEP * np.arange(n)[::-1])


def draw_panel(box, xexp, temps, m1, m2, letter, title, letter_xy, title_xy, ylabel, legend_xy, legend_gap,
               title_size=15):
    ax = add_px_axes(*box)
    ax.set_xscale('log')
    ax.set_yscale('log')
    for i in range(len(temps)):
        ax.plot(freqs(m1[i]), 10 ** np.array(m1[i]), 'o', ls='none', ms=4.4,
                mfc=FILLED[i], mec=FILLED[i], mew=0.5)
        ax.plot(freqs(m2[i]), 10 ** np.array(m2[i]), 'o', ls='none', ms=4.4,
                mfc='white', mec=OPEN[i], mew=0.9)
    ax.set_xlim(10.0 ** xexp[0], 10.0 ** xexp[1])
    ax.set_ylim(1e5, 1e11)
    xt = list(range(xexp[0], xexp[1] + 1))
    ax.set_xticks([10.0 ** e for e in xt])
    ax.set_xticklabels([X_TICKLABELS[e] for e in xt])
    ax.set_yticks(Y_TICKS)
    ax.set_yticklabels(Y_TICKLABELS)
    ax.xaxis.set_minor_locator(NullLocator())
    ax.yaxis.set_minor_locator(NullLocator())
    ax.tick_params(length=0, labelsize=7.5, labelcolor='#404040')
    ax.tick_params(axis='x', pad=8)
    ax.tick_params(axis='y', pad=7)
    ax.set_xlabel('Frequency (Hz)', fontsize=10.5, fontweight='bold', labelpad=6)
    ax.set_ylabel(ylabel, fontsize=13, fontweight='bold', labelpad=4)

    fig.text(letter_xy[0] / W, 1 - letter_xy[1] / H, letter, fontsize=title_size - 0.5, fontweight='bold',
             ha='center', va='center')
    fig.text(title_xy[0] / W, 1 - title_xy[1] / H, title, fontsize=title_size, fontweight='bold',
             ha='center', va='center')

    # legend: filled markers only, rows spaced as in the original
    fs = 11
    fs_px = fs * 100 / 72
    row_h = 0.91 * fs_px
    handles = [Line2D([], [], ls='none', marker='o', ms=4.2, mfc=FILLED[i], mec=FILLED[i])
               for i in range(len(temps))]
    ax.legend(handles, temps, loc='upper left', frameon=False, borderpad=0, borderaxespad=0,
              handlelength=0.8, handletextpad=0.3,
              labelspacing=(legend_gap - row_h) / fs_px,
              prop={'weight': 'bold', 'size': fs},
              bbox_to_anchor=((legend_xy[0] - 0.4 * fs_px) / W, 1 - (legend_xy[1] - row_h / 2) / H),
              bbox_transform=fig.transFigure)
    return ax


draw_panel((86, 60, 558, 418), (-3, 6), A_TEMPS,
           [A60_M1, A80_M1, A100_M1, A120_M1], [A60_M2, A80_M2, A100_M2, A120_M2],
           '(a)', 'ASA/PETMP (2 mol% TEMPO)', (105, 27), (310, 27),
           "M' and M\u201d (m/F)", (462, 259), 26.4)

draw_panel((687, 58, 1157, 416), (-4, 6), B_TEMPS,
           [B40_M1, B60_M1, B80_M1, B100_M1, B120_M1], [B40_M2, B60_M2, B80_M2, B100_M2, B120_M2],
           '(b)', 'ASA/PETMP-50 (2 mol% TEMPO)', (724, 27), (935, 27),
           "M\u2019 and M\u201d (m/F)", (1055, 253), 30.0)

draw_panel((86, 536, 558, 905), (-3, 6), C_TEMPS,
           [C20_M1, C40_M1, C60_M1, C80_M1, C100_M1, C120_M1],
           [C20_M2, C40_M2, C60_M2, C80_M2, C100_M2, C120_M2],
           '(c)', 'ASA/PETMP (5 mol% DMAP)', (105, 503), (318, 503),
           "M' and M\u201d (m/F)", (480, 720), 25.7)

draw_panel((699, 542, 1149, 910), (-2, 6), D_TEMPS,
           [D20_M1, D40_M1, D60_M1, D80_M1, D100_M1], [D20_M2, D40_M2, D60_M2, D80_M2, D100_M2],
           '(d)', 'ASA/PETMP-50 (5 mol% DMAP)', (716, 508), (928, 508),
           "M' and M\u201d (m/F)", (1067, 724), 29.5, title_size=16.5)

fig.savefig('out.png', dpi=100)
